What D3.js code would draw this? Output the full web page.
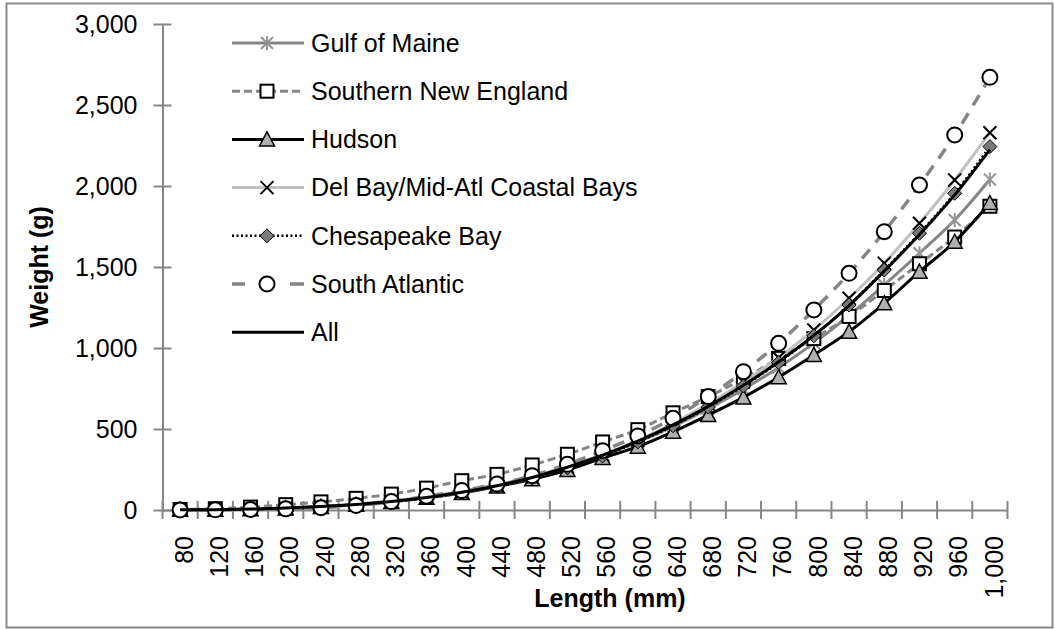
<!DOCTYPE html>
<html>
<head>
<meta charset="utf-8">
<script src="https://cdn.jsdelivr.net/npm/d3@7"></script>
<style>
  html, body { margin: 0; padding: 0; background: #fff; }
  svg { display: block; font-family: "Liberation Sans", Arial, sans-serif; }
</style>
</head>
<body>
<svg id="chart" width="1055" height="629"></svg>
<script>
// ---- data ----
const lengths = [80,120,160,200,240,280,320,360,400,440,480,520,560,600,640,680,720,760,800,840,880,920,960,1000];
const yTicks = [0,500,1000,1500,2000,2500,3000];
const seriesNames = ["Gulf of Maine","Southern New England","Hudson","Del Bay/Mid-Atl Coastal Bays","Chesapeake Bay","South Atlantic","All"];
const gulfOfMaine   = [1,2,6,12,22,35,55,80,115,155,205,270,340,420,515,625,745,880,1030,1200,1389,1585,1790,2040];
const southernNE    = [3,8,18,33,50,72,98,135,181,220,278,344,420,496,600,700,810,936,1058,1195,1355,1520,1685,1875];
const hudson        = [1,2,5,10,19,32,50,75,105,145,190,247,321,391,483,586,695,820,957,1101,1276,1471,1656,1895];
const delBay        = [1,2,5,11,20,33,51,76,108,150,200,265,340,430,535,655,790,940,1111,1307,1523,1770,2037,2329];
const chesapeake    = [1,2,5,11,20,33,51,75,107,148,198,260,333,420,520,635,765,910,1075,1265,1481,1708,1955,2243];
const southAtlantic = [0,1,3,7,14,28,52,85,120,160,212,282,366,457,566,700,854,1029,1235,1461,1718,2006,2315,2671];
const allFish       = [1,2,6,12,21,34,52,77,109,150,201,264,338,425,525,640,770,915,1078,1262,1475,1700,1945,2225];

const seriesValues = [gulfOfMaine, southernNE, hudson, delBay, chesapeake, southAtlantic, allFish];

// ---- styles ----
const styles = [
  {stroke:"#858585", width:3,   dash:null,   marker:"star"},
  {stroke:"#858585", width:3,   dash:"8,4",  marker:"square"},
  {stroke:"#000000", width:3,   dash:null,   marker:"triangle"},
  {stroke:"#c0c0c0", width:3,   dash:null,   marker:"x"},
  {stroke:"#000000", width:2.5, dash:"2,2.5",marker:"diamond"},
  {stroke:"#858585", width:3.5, dash:"12,9", marker:"circle"},
  {stroke:"#000000", width:3,   dash:null,   marker:null}
];

const FS = 25;
const svg = d3.select("#chart");
svg.append("rect").attr("x",0).attr("y",0).attr("width",1055).attr("height",629).attr("fill","#fff");
svg.append("rect").attr("x",6.5).attr("y",3.5).attr("width",1046).attr("height",624)
   .attr("fill","none").attr("stroke","#898989").attr("stroke-width",2);

const x = d3.scaleBand().domain(lengths).range([162.5, 1007.5]);
const y = d3.scaleLinear().domain([0,3000]).range([510, 24]);
const axisColor = "#868686";

// y axis
const yAxis = svg.append("g").attr("transform","translate(162.5,0)")
  .call(d3.axisLeft(y).tickValues(yTicks).tickFormat(d3.format(",")).tickSizeInner(9).tickSizeOuter(0).tickPadding(16));
yAxis.select(".domain").attr("stroke",axisColor).attr("stroke-width",2);
yAxis.selectAll(".tick line").attr("stroke",axisColor).attr("stroke-width",2).attr("x2",9).attr("x1",-9);
yAxis.selectAll(".tick text").attr("font-size",FS).attr("fill","#000").attr("font-family","Liberation Sans, Arial, sans-serif")
  .attr("x",-25);

// x axis
const xAxis = svg.append("g").attr("transform","translate(0,510)")
  .call(d3.axisBottom(x).tickFormat(d3.format(",")).tickSize(0).tickSizeOuter(0));
xAxis.select(".domain").attr("stroke",axisColor).attr("stroke-width",2);
xAxis.selectAll(".tick text")
  .attr("font-size",FS).attr("fill","#000").attr("font-family","Liberation Sans, Arial, sans-serif")
  .attr("transform","rotate(-90)").attr("text-anchor","end")
  .attr("x",-26).attr("y",4).attr("dy","0.35em");
// tick marks between categories
const bounds = d3.range(lengths.length+1).map(i => 162.5 + i*x.step());
xAxis.selectAll(".cross").data(bounds).enter().append("line")
  .attr("x1",d=>d).attr("x2",d=>d).attr("y1",-9).attr("y2",9)
  .attr("stroke",axisColor).attr("stroke-width",2);

// axis titles
svg.append("text").attr("x",610).attr("y",607).attr("text-anchor","middle")
  .attr("font-size",25).attr("font-weight","bold").text("Length (mm)");
svg.append("text").attr("transform","translate(48,267) rotate(-90)").attr("text-anchor","middle")
  .attr("font-size",25).attr("font-weight","bold").text("Weight (g)");

// markers
function drawMarker(g, type, cx, cy) {
  const m = g.append("g").attr("transform",`translate(${cx},${cy})`);
  if (type==="star") {
    m.append("path").attr("d","M0,-7L0,7M-6,-6L6,6M-6,6L6,-6").attr("stroke","#959595").attr("stroke-width",2).attr("fill","none");
  } else if (type==="square") {
    m.append("rect").attr("x",-6.5).attr("y",-6.5).attr("width",13).attr("height",13)
      .attr("fill","#fff").attr("stroke","#000").attr("stroke-width",2);
  } else if (type==="triangle") {
    m.append("path").attr("d","M0,-7.5L7.5,6.5L-7.5,6.5Z").attr("fill","#b0b0b0").attr("stroke","#000").attr("stroke-width",1.5);
  } else if (type==="x") {
    m.append("path").attr("d","M-6.5,-6.5L6.5,6.5M-6.5,6.5L6.5,-6.5").attr("stroke","#000").attr("stroke-width",2).attr("fill","none");
  } else if (type==="diamond") {
    m.append("path").attr("d","M0,-7L7,0L0,7L-7,0Z").attr("fill","#7a7a7a").attr("stroke","#000").attr("stroke-width",1);
  } else if (type==="circle") {
    m.append("circle").attr("r",7.5).attr("fill","#fff").attr("stroke","#000").attr("stroke-width",2);
  }
}

const line = d3.line().x((d,i)=>x(lengths[i])+x.bandwidth()/2).y(d=>y(d)).curve(d3.curveCatmullRom.alpha(0.5));
const plot = svg.append("g");
seriesValues.forEach((vals, s) => {
  const st = styles[s];
  const g = plot.append("g");
  g.append("path").datum(vals).attr("d",line).attr("fill","none")
    .attr("stroke",st.stroke).attr("stroke-width",st.width)
    .attr("stroke-dasharray",st.dash).attr("stroke-linejoin","round");
  if (st.marker) {
    vals.forEach((v,i) => drawMarker(g, st.marker, x(lengths[i])+x.bandwidth()/2, y(v)));
  }
});

// legend
const legend = svg.append("g");
seriesNames.forEach((name, s) => {
  const st = styles[s];
  const cy = 43 + s*48.2;
  const g = legend.append("g");
  if (s===5) {
    g.append("line").attr("x1",232).attr("x2",245).attr("y1",cy).attr("y2",cy).attr("stroke",st.stroke).attr("stroke-width",st.width);
    g.append("line").attr("x1",290).attr("x2",304).attr("y1",cy).attr("y2",cy).attr("stroke",st.stroke).attr("stroke-width",st.width);
  } else {
    g.append("line").attr("x1",232).attr("x2",304).attr("y1",cy).attr("y2",cy)
      .attr("stroke",st.stroke).attr("stroke-width",st.width).attr("stroke-dasharray",st.dash);
  }
  if (st.marker) drawMarker(g, st.marker, 267, cy);
  g.append("text").attr("x",311).attr("y",cy).attr("dy","0.35em").attr("font-size",FS).attr("fill","#000").text(name);
});
</script>
</body>
</html>
